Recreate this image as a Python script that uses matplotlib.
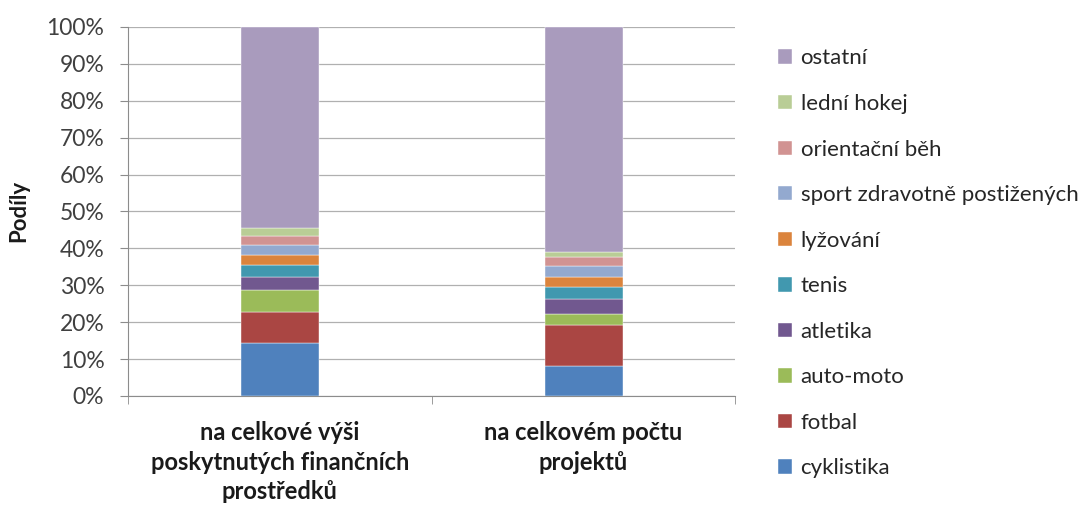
import matplotlib.pyplot as plt
import numpy as np

# %% data
categories = ["na celkové výši\nposkytnutých finančních\nprostředků",
              "na celkovém počtu\nprojektů"]
sports = ["cyklistika", "fotbal", "auto-moto", "atletika", "tenis",
          "lyžování", "sport zdravotně postižených", "orientační běh",
          "lední hokej", "ostatní"]
# shares in % (bottom to top)
financni = [14.3, 8.4, 5.9, 3.5, 3.5, 2.7, 2.5, 2.5, 2.3, 54.4]
projekty = [8.1, 11.1, 3.1, 3.9, 3.4, 2.5, 3.2, 2.4, 1.3, 61.0]
colors = ["#4F81BD", "#AA4643", "#9BBB59", "#71588F", "#4198AF",
          "#DB843D", "#93A9CF", "#D19392", "#B9CD96", "#A99BBD"]
yticks = np.arange(0, 101, 10)

# %% plot
plt.rcParams['font.family'] = ['Lato', 'DejaVu Sans']
fig = plt.figure(figsize=(10.8, 5.07), dpi=100)
ax = fig.add_axes([0.1185, 0.219, 0.5625, 0.728])

x = np.arange(len(categories))
vals = np.array([financni, projekty])
bottom = np.zeros(len(categories))
handles = []
for i, name in enumerate(sports):
    h = ax.bar(x, vals[:, i], 0.257, bottom=bottom, color=colors[i],
               edgecolor="white", linewidth=0.3, label=name, zorder=3)
    handles.append(h)
    bottom += vals[:, i]

ax.set_xlim(-0.5, 1.5)
ax.set_ylim(0, 100)
ax.set_yticks(yticks)
ax.set_yticklabels(["%d%%" % v for v in yticks], fontsize=16.5, color="#404040")
ax.yaxis.grid(True, color="#b0b0b0", linewidth=0.9, zorder=0)
ax.set_xticks(x)
ax.set_xticklabels(categories, fontsize=17, fontweight="bold", linespacing=1.35,
                   color="#1a1a1a")
ax.set_xticks([-0.5, 0.5, 1.5], minor=True)
ax.tick_params(axis="x", which="major", length=0, pad=18)
ax.tick_params(axis="x", which="minor", length=6, color="#8c8c8c")
ax.tick_params(axis="y", length=6, color="#8c8c8c", pad=11)
for s in ["top", "right"]:
    ax.spines[s].set_visible(False)
for s in ["left", "bottom"]:
    ax.spines[s].set_color("#8c8c8c")
ax.set_ylabel("Podíly", fontsize=16, fontweight="bold", color="#1a1a1a")
ax.yaxis.set_label_coords(-0.162, 0.5)

leg = fig.legend(handles[::-1], sports[::-1], loc="upper left",
                 bbox_to_anchor=(0.712, 0.922), frameon=False, fontsize=16,
                 handlelength=0.62, handleheight=0.62, handletextpad=0.4,
                 labelspacing=1.15, borderaxespad=0, labelcolor="#262626")

fig.savefig("out.png", dpi=100)
